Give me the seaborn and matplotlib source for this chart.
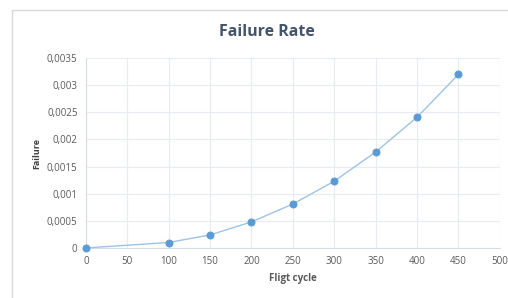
import numpy as np
import matplotlib.pyplot as plt
import seaborn as sns
from matplotlib.patches import Rectangle
from matplotlib.ticker import FuncFormatter

# data
cycles = [0, 100, 150, 200, 250, 300, 350, 400, 450]
failure = [0.0, 0.0001, 0.00024, 0.00048, 0.00081, 0.00123, 0.00177, 0.00241, 0.0032]

sns.set_style("white")
plt.rcParams['font.family'] = ['Open Sans', 'DejaVu Sans']

fig = plt.figure(figsize=(5.08, 2.98), dpi=100)
ax = fig.add_axes([0.169, 0.168, 0.815, 0.637])

# chart frame
fig.patches.append(Rectangle((12 / 508, -0.02), 1.0, 1 - 10 / 298 + 0.02,
                             transform=fig.transFigure, fill=False,
                             edgecolor='#D9D9D9', linewidth=1.0))

sns.lineplot(x=cycles, y=failure, ax=ax, color='#9DC3E6', linewidth=1.0,
             marker='o', markersize=5, markerfacecolor='#5B9BD5',
             markeredgecolor='#5B9BD5', clip_on=False, zorder=5)

ax.set_xlim(0, 500)
ax.set_ylim(0, 0.0035)
ax.set_xticks(np.arange(0, 501, 50))
ax.set_yticks(np.arange(0, 0.00351, 0.0005))

def comma_fmt(v, pos):
    s = f"{v:.4f}".rstrip('0').rstrip('.')
    return s.replace('.', ',')

ax.yaxis.set_major_formatter(FuncFormatter(comma_fmt))
ax.tick_params(labelsize=7, colors='#595959', length=0, pad=6)
ax.grid(True, color='#E8ECF2', linewidth=0.8)
for side in ['top', 'right']:
    ax.spines[side].set_visible(False)
ax.spines['left'].set_color('#D6DCE5')
ax.spines['bottom'].set_color('#D6DCE5')

fig.text(267 / 508, 1 - 32 / 298, 'Failure Rate', fontsize=11.5, fontweight='bold',
         color='#44546A', ha='center', va='center')
ax.set_xlabel('Fligt cycle', fontsize=7, fontweight='bold', color='#595959')
ax.set_ylabel('Failure', fontsize=6.5, fontweight='bold', color='#404040')

plt.savefig('out.png', dpi=100)
